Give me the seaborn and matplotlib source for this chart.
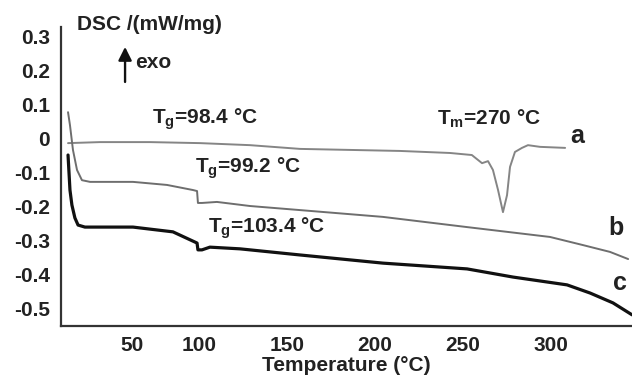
import numpy as np
import pandas as pd
import matplotlib
matplotlib.use('Agg')
import matplotlib.pyplot as plt
import seaborn as sns

# curve a: Tg=98.4, melting dip at ~270
a_temp = [25.6, 43.8, 72.2, 100.6, 129, 157.4, 185.8, 214.2, 242.6, 255, 260.8, 264.2,
          267, 269.9, 272.7, 275, 276.7, 279.5, 283.5, 286.9, 293.8, 308]
a_dsc = [-0.015, -0.012, -0.012, -0.015, -0.021, -0.032, -0.035, -0.038, -0.044, -0.05, -0.074, -0.068,
         -0.094, -0.153, -0.218, -0.168, -0.085, -0.041, -0.029, -0.021, -0.026, -0.029]

# curve b: Tg=99.2
b_temp = [25.6, 26.7, 28.4, 30.7, 33.5, 38.1, 62.5, 81.8, 96.6, 98.9, 99.4, 101.7,
          110.2, 129, 157.4, 204.5, 252.3, 299.4, 318.2, 333.5, 343.8]
b_dsc = [0.076, 0.038, -0.035, -0.094, -0.124, -0.129, -0.129, -0.138, -0.153, -0.156, -0.191, -0.191,
         -0.188, -0.2, -0.212, -0.232, -0.262, -0.291, -0.315, -0.335, -0.356]

# curve c: Tg=103.4
c_temp = [25.6, 26.7, 27.8, 29.5, 31.3, 35.2, 62.5, 72.2, 85.2, 97.7, 98.9, 99.4, 101.7,
          106.2, 123.3, 157.4, 204.5, 252.3, 278.4, 309.1, 322.2, 335.2, 346]
c_dsc = [-0.05, -0.153, -0.197, -0.235, -0.256, -0.262, -0.262, -0.268, -0.276, -0.306, -0.309, -0.329, -0.329,
         -0.321, -0.326, -0.344, -0.368, -0.385, -0.409, -0.432, -0.456, -0.485, -0.52]

# the "50" tick in the original sits off the linear scale, keep it where it was drawn
x_tick_pos = [62, 100, 150, 200, 250, 300]
x_tick_labels = ['50', '100', '150', '200', '250', '300']
y_ticks = [0.3, 0.2, 0.1, 0, -0.1, -0.2, -0.3, -0.4, -0.5]
y_tick_labels = ['0.3', '0.2', '0.1', '0', '-0.1', '-0.2', '-0.3', '-0.4', '-0.5']

sns.set_style('white')
plt.rcParams['font.family'] = ['Liberation Sans', 'DejaVu Sans']
plt.rcParams['font.weight'] = 'bold'
plt.rcParams['mathtext.fontset'] = 'custom'
plt.rcParams['mathtext.rm'] = 'Liberation Sans:bold'
plt.rcParams['mathtext.it'] = 'Liberation Sans:bold'
plt.rcParams['mathtext.bf'] = 'Liberation Sans:bold'

fig = plt.figure(figsize=(6.32, 3.85), dpi=100)
ax = fig.add_axes([0.0965, 0.1532, 0.9035, 0.7766])

sns.lineplot(x=a_temp, y=a_dsc, ax=ax, color='#858585', lw=1.4, estimator=None, sort=False)
sns.lineplot(x=b_temp, y=b_dsc, ax=ax, color='#6e6e6e', lw=1.4, estimator=None, sort=False)
sns.lineplot(x=c_temp, y=c_dsc, ax=ax, color='#111111', lw=2.3, estimator=None, sort=False)

ax.set_xlim(21.6, 346)
ax.set_ylim(-0.553, 0.3265)
ax.set_xticks(x_tick_pos, x_tick_labels)
ax.set_yticks(y_ticks, y_tick_labels)
ax.tick_params(axis='x', direction='in', length=4, width=1.2, labelsize=15, pad=7, colors='#222222')
ax.tick_params(axis='y', direction='out', length=4, width=1.2, labelsize=15, pad=4, colors='#222222')
for s in ['top', 'right']:
    ax.spines[s].set_visible(False)
for s in ['left', 'bottom']:
    ax.spines[s].set_color('#333333')
    ax.spines[s].set_linewidth(1.6)

ax.set_xlabel('Temperature (°C)', fontsize=15, fontweight='bold', labelpad=1, color='#222222')
fig.text(77 / 632, 1 - 24 / 385, 'DSC /(mW/mg)', fontsize=15, fontweight='bold',
         ha='left', va='center', color='#222222')

# exo arrow
ax.annotate('', xy=(58, 0.268), xytext=(58, 0.165),
            arrowprops=dict(arrowstyle='-|>', color='#111111', lw=1.7, mutation_scale=20,
                            shrinkA=0, shrinkB=0))
ax.text(63.6, 0.206, 'exo', fontsize=15, fontweight='bold', va='baseline', color='#222222')

ax.text(73.3, 0.041, r'T$_{\mathrm{g}}$=98.4 °C', fontsize=15, va='baseline', color='#222222')
ax.text(97.7, -0.103, r'T$_{\mathrm{g}}$=99.2 °C', fontsize=15, va='baseline', color='#222222')
ax.text(105.1, -0.279, r'T$_{\mathrm{g}}$=103.4 °C', fontsize=15, va='baseline', color='#222222')
ax.text(235.2, 0.038, r'T$_{\mathrm{m}}$=270 °C', fontsize=15, va='baseline', color='#222222')

ax.text(310.8, -0.015, 'a', fontsize=18, va='baseline', color='#222222')
ax.text(332.4, -0.285, 'b', fontsize=18, va='baseline', color='#222222')
ax.text(335.2, -0.447, 'c', fontsize=18, va='baseline', color='#222222')

fig.savefig('out.png', dpi=100)
